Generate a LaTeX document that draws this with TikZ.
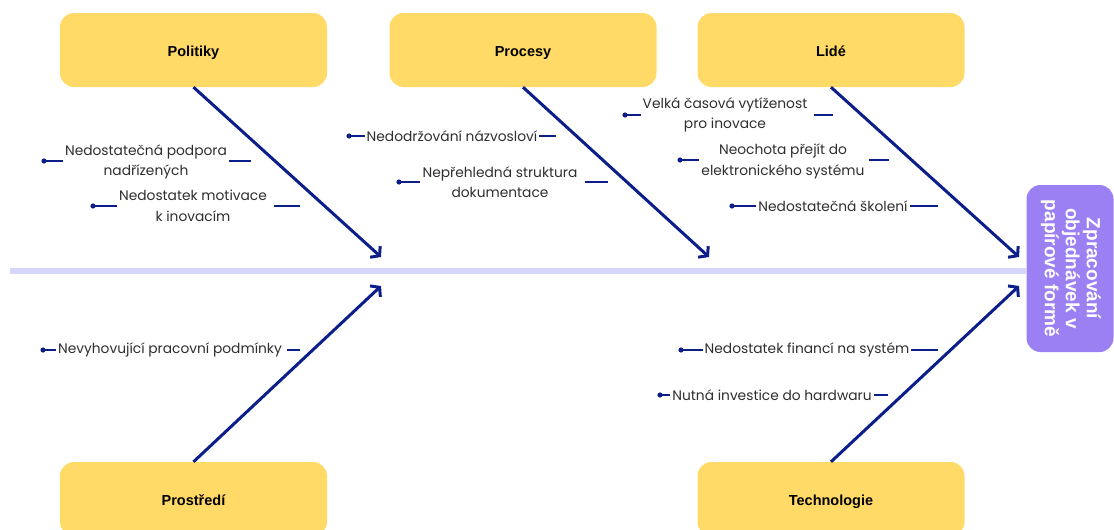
\documentclass[tikz,border=0pt]{standalone}
\usepackage{fontspec}
\usepackage{graphicx}
\setmainfont{Liberation Sans}
\newfontfamily\itemfont{Poppins}
\usetikzlibrary{arrows.meta}

\definecolor{causeyellow}{HTML}{FFDA66}
\definecolor{effectpurple}{HTML}{9B80F3}
\definecolor{bonenavy}{HTML}{0C1E8A}
\definecolor{spinelav}{HTML}{D6D6FB}
\definecolor{itemgray}{HTML}{2E2E2E}

\begin{document}
\begin{tikzpicture}[x=1pt,y=-1pt,
  category/.style={fill=causeyellow, rounded corners=14pt,
    minimum width=267pt, minimum height=74pt, inner sep=0pt,
    text height=16pt, text depth=3pt,
    font=\bfseries\fontsize{14.5}{16}\selectfont, text=black},
  effect/.style={fill=effectpurple, rounded corners=14pt,
    minimum width=87pt, minimum height=167pt, inner sep=0pt,
    font=\bfseries\fontsize{19}{21}\selectfont, text=white},
  spine/.style={draw=spinelav, line width=6pt},
  bone/.style={draw=bonenavy, line width=3pt,
    -{Straight Barb[length=6pt,width=15pt,line width=3pt]}},
  item/.style={align=center, inner xsep=2pt, inner ysep=0pt, text=itemgray,
    font=\itemfont\fontsize{13.8}{20.5}\selectfont},
  twig/.style={draw=bonenavy, line width=1.1pt},
  knot/.style={fill=bonenavy},
]
\useasboundingbox (0,0) rectangle (1114,530);

% effect box and spine
\node[effect] (eff) at (1070,268.5)
  {\rotatebox{-90}{\begin{tabular}{@{}c@{}}Zpracování\\objednávek v\\papírové formě\end{tabular}}};
\coordinate (tail) at (10,270.5);
\draw[spine] (tail) -- (eff.west |- tail);

% cause categories
\node[category] (pol) at (193.5,50) {Politiky};
\node[category] (pro) at (523,50) {Procesy};
\node[category] (lid) at (831,50) {Lidé};
\node[category] (env) at (193.5,499) {Prostředí};
\node[category] (tec) at (831,499) {Technologie};

% arrow tips on the spine
\coordinate (polT) at (381,257);
\coordinate (proT) at (709,257);
\coordinate (lidT) at (1019,257);
\coordinate (envT) at (381,286);
\coordinate (tecT) at (1019,286);

\draw[bone] (pol.south) -- (polT);
\draw[bone] (pro.south) -- (proT);
\draw[bone] (lid.south) -- (lidT);
\draw[bone] (env.north) -- (envT);
\draw[bone] (tec.north) -- (tecT);

% sub-causes: text, dot on the left, short stroke on the right
\node[item] (p1) at (146,162) {Nedostatečná podpora\\nadřízených};
\node[item] (p2) at (193,206) {Nedostatek motivace\\k inovacím};
\node[item] (r1) at (452,136) {Nedodržování názvosloví};
\node[item] (r2) at (500,182) {Nepřehledná struktura\\dokumentace};
\node[item] (l1) at (725,115) {Velká časová vytíženost\\pro inovace};
\node[item] (l2) at (783,161.5) {Neochota přejít do\\elektronického systému};
\node[item] (l3) at (833,206) {Nedostatečná školení};
\node[item] (e1) at (170,350) {Nevyhovující pracovní podmínky};
\node[item] (t1) at (807,350) {Nedostatek financí na systém};
\node[item] (t2) at (772,395) {Nutná investice do hardwaru};

\coordinate (p1d) at (44,161);   \coordinate (p1e) at (251,161);
\coordinate (p2d) at (93,206);   \coordinate (p2e) at (300,206);
\coordinate (r1d) at (349,136);  \coordinate (r1e) at (556,136);
\coordinate (r2d) at (399,182);  \coordinate (r2e) at (608,182);
\coordinate (l1d) at (625,115);  \coordinate (l1e) at (833,115);
\coordinate (l2d) at (680,160);  \coordinate (l2e) at (889,160);
\coordinate (l3d) at (732,206);  \coordinate (l3e) at (938,206);
\coordinate (e1d) at (43,350);   \coordinate (e1e) at (300,350);
\coordinate (t1d) at (681,350);  \coordinate (t1e) at (938,350);
\coordinate (t2d) at (660,395);  \coordinate (t2e) at (888,395);

\foreach \n/\g in {p1/0,p2/5,r1/0,r2/5,l1/5,l2/2,l3/0,e1/3,t1/0,t2/0}{
  \draw[twig] (\n d) -- (\n d -| \n.west);
  \draw[twig] (\n.east |- \n e) ++(\g,0) -- (\n e);
  \fill[knot] (\n d) circle (2.6pt);
}
\end{tikzpicture}
\end{document}
